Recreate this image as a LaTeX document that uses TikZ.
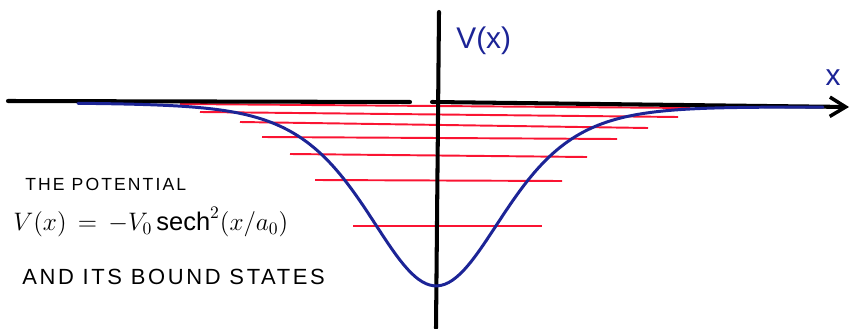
\documentclass[tikz,border=0pt]{standalone}
\usepackage{fontspec}
\setmainfont{Liberation Sans}
\usetikzlibrary{arrows.meta}
\definecolor{penblue}{RGB}{28,36,150}
\definecolor{penred}{RGB}{250,20,50}
\tikzset{
  axisline/.style={line width=2.3pt, black, line cap=round},
  level/.style={line width=1.1pt, penred},
  curve/.style={line width=1.7pt, penblue, line cap=round, line join=round},
  caption/.style={anchor=west, inner sep=0pt, text=black},
  axislabel/.style={inner sep=0pt, text=penblue, font=\fontsize{17}{20}\selectfont}
}
\begin{document}
\begin{tikzpicture}[x=0.02cm,y=-0.02cm]
\useasboundingbox (0,0) rectangle (852,328);
% bound-state levels
\foreach \i/\xa/\ya/\xb/\yb in {1/180/104/690/108, 2/200/112/678/117, 3/240/122/648/128, 4/262/137/617/139, 5/290/154/587/157, 6/315/180/562/181, 7/353/226/542/226}{
  \coordinate (l\i a) at (\xa,\ya);
  \coordinate (l\i b) at (\xb,\yb);
  \draw[level] (l\i a) -- (l\i b);
}
% axes
\coordinate (xl) at (8,101);
\coordinate (xm) at (410,102);
\coordinate (xn) at (432,102);
\coordinate (xr) at (849,107);
\coordinate (yt) at (439,12);
\coordinate (yb) at (436,328);
\draw[axisline] (xl) -- (xm);
\draw[axisline, -{Straight Barb[length=9pt,width=11pt,line width=2pt]}] (xn) -- (xr);
\draw[axisline] (yt) -- (yb);
% potential curve  V = -V0 sech^2((x-x0)/a)
\draw[curve] plot[domain=78:823, samples=200, variable=\t]
  ({\t}, {103 + (\t-78)*4/745 + 181/(cosh((\t-436)/91)^2)});
% labels
\node[axislabel, anchor=north west] (vlab) at (456,27) {V(x)};
\node[axislabel, anchor=south] (xlab) at (833,86) {x};
\node[caption, font=\fontsize{10}{12}\selectfont\addfontfeatures{LetterSpace=12}] (t1) at (25,184) {THE POTENTIAL};
\node[caption, font=\fontsize{14.5}{17}\selectfont] (t2) at (13,222) {$V(x)\,=\,-V_0\,\mathrm{sech}^2(x/a_0)$};
\node[caption, font=\fontsize{12.5}{15}\selectfont\addfontfeatures{LetterSpace=12}] (t3) at (22,277) {AND ITS BOUND STATES};
\end{tikzpicture}
\end{document}
